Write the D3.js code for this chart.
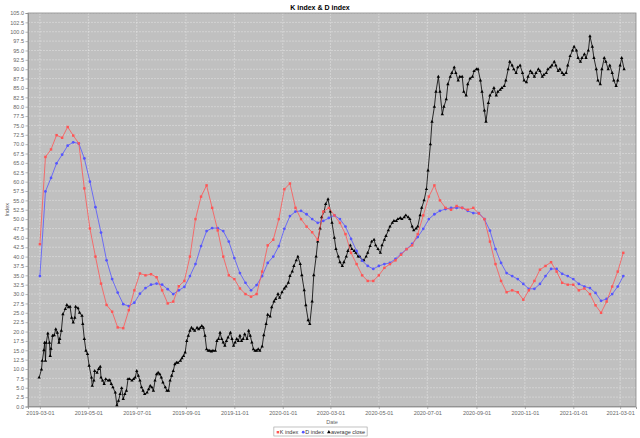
<!DOCTYPE html>
<html><head><meta charset="utf-8">
<script src="https://cdn.jsdelivr.net/npm/d3@7"></script>
<style>body{margin:0;background:#fff}svg{display:block}</style>
</head><body><svg id="c" width="640" height="438"></svg>
<script>
const chartTitle = "K index & D index";
const xAxisTitle = "Date";
const yAxisTitle = "Index";
const seriesNames = ["K index", "D index", "average close"];
const xTickLabels = ["2019-03-01","2019-05-01","2019-07-01","2019-09-01","2019-11-01","2020-01-01","2020-03-01","2020-05-01","2020-07-01","2020-09-01","2020-11-01","2021-01-01","2021-03-01"];
const weekStart = "2019-03-01";
const kValues = [43.3,66.6,68.6,72.4,71.7,74.6,72.3,70.2,58.2,47.5,40,32.8,27.1,25.3,21.1,20.9,25.7,31,35.5,35,35.3,34.5,31,27.5,28,32.1,33.5,40,50,56,59,53,47,40,35,34,31.5,30,29.3,30,36,43,44.5,50,58,59.5,53,50,48,46.5,44.5,52,53,51,49,46,41,38,35,33.5,33.5,35,37,38,39,40.5,42,43,46,51,56,59,55,53,52.5,53.5,53,52.5,53,51.5,50,44,38,33.5,30.5,31,30.5,28.5,31,33.5,36.5,37.5,38.5,36,33,32.5,32.5,31,31.5,30,27,25,28,32,36,41];
const dValues = [34.8,57.4,61,64.9,67.2,69.6,70.5,70.2,66.2,60,53.2,46.4,39,34,30.4,27.3,26.8,27.7,30.1,31.6,32.5,32.8,32.5,31.3,30,31,31.9,34.8,38,42.8,46.8,47.6,47.6,46.8,44,39.6,35.6,33,31,32.4,34.8,38.3,40,42.8,47.4,50.8,52,52.2,51.3,50,49,49.5,50.3,51,50,48,44.7,41.5,38.9,37.5,36.7,37.5,38,38.3,39.4,40.7,42,43.4,45.2,47.4,50,51.3,52.2,52.7,53,53,53,52.2,51.6,51.6,50,46.9,42,38.3,35.6,34.8,34,32.7,31.4,31.4,32.7,34.8,36.7,36.7,35.4,34.8,34,32.7,32,31.6,30.3,28.2,28.7,30,32,34.8];
const closeStart = "2019-03-01";
// [day offset from closeStart, average close]
const closePoints = [[-1,7.7],[2,9.9],[3,12.2],[5,15],[6,17],[7,12.2],[8,17],[10,19.5],[12,17],[13,13.5],[14,15.4],[16,18.9],[18,19],[20,20.6],[22,19.7],[24,17],[25,18],[27,20.2],[29,24.6],[32,26],[34,27.1],[36,26.5],[38,26.6],[40,23.7],[42,22.4],[44,23.7],[45,26.6],[48,26.2],[50,25],[53,24.2],[54,22],[56,18],[58,14.9],[60,14],[62,10.9],[65,7.7],[66,5.5],[68,6.9],[69,9.5],[72,9],[74,10],[76,10.6],[77,7.7],[79,6.9],[81,6],[83,7.3],[86,6.9],[88,7],[90,6],[92,5.1],[95,3.7],[97,0.3],[99,1.5],[101,3.3],[103,4.9],[105,2],[107,3.3],[109,4.2],[111,7.3],[113,7.3],[116,6.9],[118,7.3],[120,7.7],[122,9.5],[124,8.2],[126,6.9],[128,5.1],[130,4.2],[132,3.3],[135,3.7],[137,4.6],[139,5.5],[141,5.1],[143,4.2],[145,6.9],[147,8.6],[149,9],[151,8.6],[153,7.7],[155,6.4],[158,5.1],[160,4.2],[162,4.2],[164,6.9],[166,8.2],[168,9.5],[170,11.3],[172,11.7],[174,11.7],[177,12.2],[179,12.9],[181,13.5],[183,14.4],[185,17.5],[187,18.9],[189,20.2],[191,21],[193,20.6],[195,20.2],[198,21],[200,20.6],[202,21],[204,21.5],[206,21],[208,18.9],[210,15.3],[212,14.9],[214,14.9],[216,14.7],[218,14.9],[221,14.9],[223,17.5],[225,18],[227,19.7],[229,18],[231,17.1],[233,16.2],[235,17.5],[237,18.4],[240,19.7],[242,18],[244,16.2],[246,17.1],[248,18],[250,17.5],[252,18.9],[254,17.5],[256,18],[258,19.3],[261,18],[263,20.2],[265,18.9],[267,17.1],[269,15.3],[271,14.9],[273,14.9],[275,15.3],[277,14.9],
[280,16],[282,19],[285,22],[287,24.5],[290,24],[292,26.5],[295,28],[297,28.7],[300,30],[302,29],[305,30.5],[308,31.5],[310,32],[313,33],[315,34.8],[318,36],[320,37.5],[323,39],[325,40],[328,38],[330,35],[333,31],[335,27],[338,23],[340,22],[343,28],[345,35],[348,40],[350,44],[353,47.5],[355,50.5],[358,52],[360,54],[363,55.3],[366,52],[368,49],[371,45],[373,42],[376,40],[378,38.5],[381,37.5],[383,38.5],[386,40],[388,41.5],[391,43],[393,42],[396,41.5],[398,41],[401,40],[403,40],[406,39],[408,39],[411,40],[413,41],[416,42.8],[418,44],[421,44.5],[423,43],[426,42],[429,41],[431,43],[434,44.5],[436,45.5],[439,47],[441,48],[444,49],[446,49.5],[449,49.5],[451,50],[454,50.3],[456,50],[459,50.5],[461,51],[464,50.5],[466,50],[469,48],[471,47],[474,47.5],[476,48],[479,51],[481,53],[484,55],[487,58],[489,63],[492,70],[494,76],[497,80],[499,84],[502,88],[504,84],[507,78],[509,80],[512,82],[514,86],[517,88],[519,89],[522,90.5],[524,89],[527,87],[529,88],[532,88],[534,84],[537,83],[539,86],[542,87.5],[545,88],[547,89.5],[550,90],[552,90],[555,87],[557,84],[560,79],[562,76],[565,81],[567,83],[570,84],[572,85],[575,83],[577,84],[580,84.5],[582,85],[585,85.5],[587,87],[590,90],[592,92],[595,91],[597,90],[600,89],[602,90.5],[605,91],[608,89],[610,87],[613,86.5],[615,88],[618,89.5],[620,89],[623,88],[625,89],[628,90],[630,89.5],[633,88],[635,88.5],[638,89],[640,90],[643,90.5],[645,91],[648,92],[650,91],[653,89.5],[655,90],[658,89],[660,88.5],[663,89],[665,91],[668,93.5],[671,95],[673,96],[676,95],[678,93],[681,92],[683,93],[686,94],[688,93],[691,95],[693,98.8],[696,96],[698,93],[701,90],[703,87],[706,86],[708,90],[711,93],[713,92],[716,90],[718,91],[721,89],[723,87],[726,85.5],[728,87],[731,91],[733,93],[736,90]];
const yTickStep = 2.5, yMax = 105;
const seriesColors = ["#ff5555", "#5555ff", "#000000"];

const svg = d3.select("#c");
const font = "'Liberation Sans', Arial, sans-serif";
const m = {l: 28, r: 636, t: 13, b: 406.5};
const parse = d3.utcParse("%Y-%m-%d");
const x = d3.scaleUtc().domain([Date.UTC(2019,1,14), Date.UTC(2021,2,21)]).range([m.l, m.r]);
const y = d3.scaleLinear().domain([0, yMax]).range([m.b, m.t]);

const w0 = parse(weekStart);
const kData = kValues.map((v,i)=>({d:d3.utcDay.offset(w0, 7*i), v}));
const dData = dValues.map((v,i)=>({d:d3.utcDay.offset(w0, 7*i), v}));
const c0 = parse(closeStart);
const cData = closePoints.map(p=>({d:d3.utcDay.offset(c0, p[0]), v:p[1]}));

svg.append("rect").attr("width",640).attr("height",438).attr("fill","#fff");
svg.append("rect").attr("x",m.l).attr("y",m.t).attr("width",m.r-m.l).attr("height",m.b-m.t)
  .attr("fill","#c0c0c0");

const yTicks = d3.range(0, yMax + 0.001, yTickStep);
const xTicks = xTickLabels.map(parse);
const grid = svg.append("g");
grid.selectAll("line.h").data(yTicks).join("line").attr("class","h")
  .attr("x1",m.l).attr("x2",m.r).attr("y1",d=>y(d)).attr("y2",d=>y(d))
  .attr("stroke","#fff").attr("stroke-width",0.6).attr("stroke-opacity",0.5).attr("stroke-dasharray","2,1");
grid.selectAll("line.v").data(xTicks).join("line").attr("class","v")
  .attr("y1",m.t).attr("y2",m.b).attr("x1",d=>x(d)).attr("x2",d=>x(d))
  .attr("stroke","#fff").attr("stroke-width",0.6).attr("stroke-opacity",0.55).attr("stroke-dasharray","2,1");

svg.append("rect").attr("x",m.l).attr("y",m.t).attr("width",m.r-m.l).attr("height",m.b-m.t)
  .attr("fill","none").attr("stroke","#888").attr("stroke-width",0.8);

// axes
const xAxis = d3.axisBottom(x).tickValues(xTicks).tickFormat(d3.utcFormat("%Y-%m-%d")).tickSize(2.5).tickPadding(2);
const gx = svg.append("g").attr("transform",`translate(0,${m.b})`).call(xAxis);
const yAxis = d3.axisLeft(y).tickValues(yTicks).tickFormat(d3.format(".1f")).tickSize(2.5).tickPadding(1.5);
const gy = svg.append("g").attr("transform",`translate(${m.l},0)`).call(yAxis);
[gx,gy].forEach(g=>{
  g.select(".domain").attr("stroke","#888").attr("stroke-width",0.8);
  g.selectAll(".tick line").attr("stroke","#888").attr("stroke-width",0.6);
  g.selectAll(".tick text").attr("fill","#666").attr("font-family",font).attr("font-size",5.5);
});

// series
const line = d3.line().x(d=>x(d.d)).y(d=>y(d.v));
function drawSeries(data, color, shape, size){
  const g = svg.append("g");
  g.append("path").datum(data).attr("d",line).attr("fill","none").attr("stroke",color).attr("stroke-width",0.8);
  g.selectAll("path.m").data(data).join("path").attr("class","m")
    .attr("transform",d=>`translate(${x(d.d)},${y(d.v)})`)
    .attr("d", d3.symbol().type(shape).size(size)).attr("fill",color);
}
drawSeries(cData, seriesColors[2], d3.symbolTriangle, 5);
drawSeries(dData, seriesColors[1], d3.symbolCircle, 6);
drawSeries(kData, seriesColors[0], d3.symbolSquare, 6);

// titles
svg.append("text").attr("x",320).attr("y",9.5).attr("text-anchor","middle").attr("font-family",font)
  .attr("font-size",7).attr("font-weight","bold").attr("fill","#000").text(chartTitle);
svg.append("text").attr("x",(m.l+m.r)/2).attr("y",424).attr("text-anchor","middle").attr("font-family",font)
  .attr("font-size",5.5).attr("fill","#666").text(xAxisTitle);
svg.append("text").attr("transform",`translate(9,${(m.t+m.b)/2}) rotate(-90)`).attr("text-anchor","middle")
  .attr("font-family",font).attr("font-size",5.5).attr("fill","#666").text(yAxisTitle);

// legend
const legendBox = svg.append("rect");
const lg = svg.append("g");
const shapes = [d3.symbolSquare, d3.symbolCircle, d3.symbolTriangle];
let cx = 0;
seriesNames.forEach((n,i)=>{
  const it = lg.append("g").attr("transform",`translate(${cx},0)`);
  it.append("path").attr("transform","translate(2,-1.8)").attr("d",d3.symbol().type(shapes[i]).size(6)).attr("fill",seriesColors[i]);
  const t = it.append("text").attr("x",4).attr("y",0).attr("font-family",font).attr("font-size",5.5).attr("fill","#333").text(n);
  cx += 4 + t.node().getComputedTextLength() + 3;
});
const lw = cx - 3 + 4;
const lx = 320.5 - lw/2;
lg.attr("transform",`translate(${lx+2},434)`);
legendBox.attr("x",lx).attr("y",427).attr("width",lw).attr("height",9)
  .attr("fill","#fff").attr("stroke","#999").attr("stroke-width",0.6);
</script></body></html>
